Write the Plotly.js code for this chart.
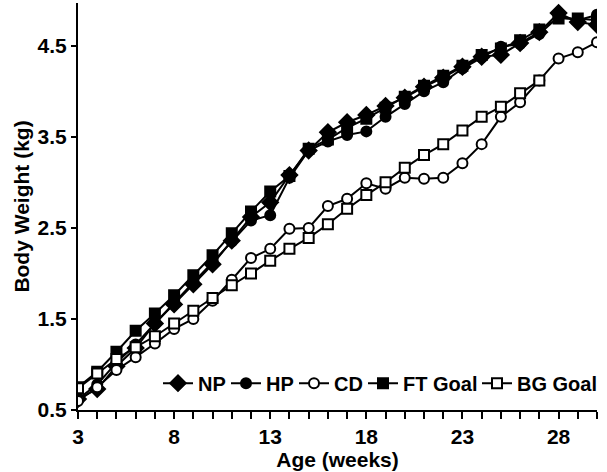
<!DOCTYPE html>
<html>
<head>
<meta charset="utf-8">
<script src="https://cdn.plot.ly/plotly-3.0.1.min.js"></script>
<style>html,body{margin:0;padding:0;background:#fff;}#chart{width:607px;height:472px;}</style>
</head>
<body>
<div id="chart"></div>
<script>
const weeks = [3,4,5,6,7,8,9,10,11,12,13,14,15,16,17,18,19,20,21,22,23,24,25,26,27,28,29,30];
const NP = [0.62,0.73,0.98,1.18,1.45,1.66,1.88,2.10,2.36,2.62,2.78,3.08,3.35,3.55,3.66,3.74,3.84,3.93,4.05,4.15,4.27,4.38,4.40,4.53,4.65,4.86,4.76,4.73];
const HP = [0.62,0.78,1.02,1.22,1.45,1.68,1.90,2.12,2.35,2.58,2.64,3.05,3.35,3.45,3.52,3.56,3.72,3.86,4.00,4.10,4.25,4.37,4.49,4.52,4.63,4.82,4.78,4.84];
const CD = [0.60,0.75,0.94,1.08,1.23,1.39,1.50,1.70,1.93,2.17,2.27,2.49,2.50,2.74,2.82,2.99,2.93,3.05,3.04,3.05,3.21,3.42,3.72,3.88,4.12,4.36,4.43,4.54];
const FT = [0.75,0.92,1.14,1.37,1.56,1.76,1.98,2.20,2.44,2.68,2.90,3.07,3.37,3.47,3.60,3.70,3.82,3.94,4.06,4.17,4.28,4.40,4.47,4.56,4.68,4.80,4.80,4.78];
const BG = [0.74,0.90,1.06,1.19,1.31,1.45,1.59,1.73,1.87,2.00,2.14,2.27,2.39,2.54,2.71,2.86,3.00,3.16,3.30,3.42,3.57,3.72,3.83,3.98,4.12,null,null,null];
const xTicks = [3,8,13,18,23,28];
const yTicks = [0.5,1.5,2.5,3.5,4.5];

function tr(name, y, symbol, fill, size, lw) {
  return {
    x: weeks, y: y, name: name, type: 'scatter', mode: 'lines+markers',
    line: {color: '#000', width: 2},
    marker: {symbol: symbol, size: size, color: fill, line: {color: '#000', width: 2}},
    connectgaps: false,
    legendwidth: lw
  };
}
const data = [
  tr('NP', NP, 'diamond', '#000', 12, 23),
  tr('HP', HP, 'circle', '#000', 10, 23),
  tr('CD', CD, 'circle', '#fff', 10, 24),
  tr('FT Goal', FT, 'square', '#000', 10, 69),
  tr('BG Goal', BG, 'square', '#fff', 10, 75)
];
const font = {family: 'Liberation Sans, Arial, sans-serif', size: 21, color: '#000', weight: 'bold'};
const layout = {
  width: 607, height: 472,
  margin: {l: 78, r: 10, t: 3, b: 62},
  paper_bgcolor: '#fff', plot_bgcolor: '#fff',
  font: font,
  showlegend: true,
  legend: {orientation: 'h', x: 1.0, y: 0.066, xanchor: 'right', yanchor: 'middle',
           font: {family: font.family, size: 20, color: '#000', weight: 'bold'}, itemwidth: 30, bgcolor: 'rgba(0,0,0,0)', tracegroupgap: 0},
  xaxis: {
    range: [3, 30], tickvals: xTicks, ticktext: xTicks.map(String),
    showgrid: false, zeroline: false, showline: true, linecolor: '#000', linewidth: 2,
    ticks: 'outside', ticklen: 7, tickwidth: 2, tickcolor: '#000',
    minor: {dtick: 1, tick0: 3, ticks: 'outside', ticklen: 7, tickwidth: 2, tickcolor: '#000'},
    tickfont: font,
    title: {text: 'Age (weeks)', font: font, standoff: 0}
  },
  yaxis: {
    range: [0.5, 4.97], tickvals: yTicks, ticktext: yTicks.map(v => v.toFixed(1)),
    showgrid: false, zeroline: false, showline: true, linecolor: '#000', linewidth: 2,
    ticks: 'outside', ticklen: 5, tickwidth: 2, tickcolor: '#000',
    tickfont: font,
    title: {text: 'Body Weight (kg)', font: font, standoff: 2}
  }
};
Plotly.newPlot('chart', data, layout, {staticPlot: true, displayModeBar: false});
</script>
</body>
</html>
